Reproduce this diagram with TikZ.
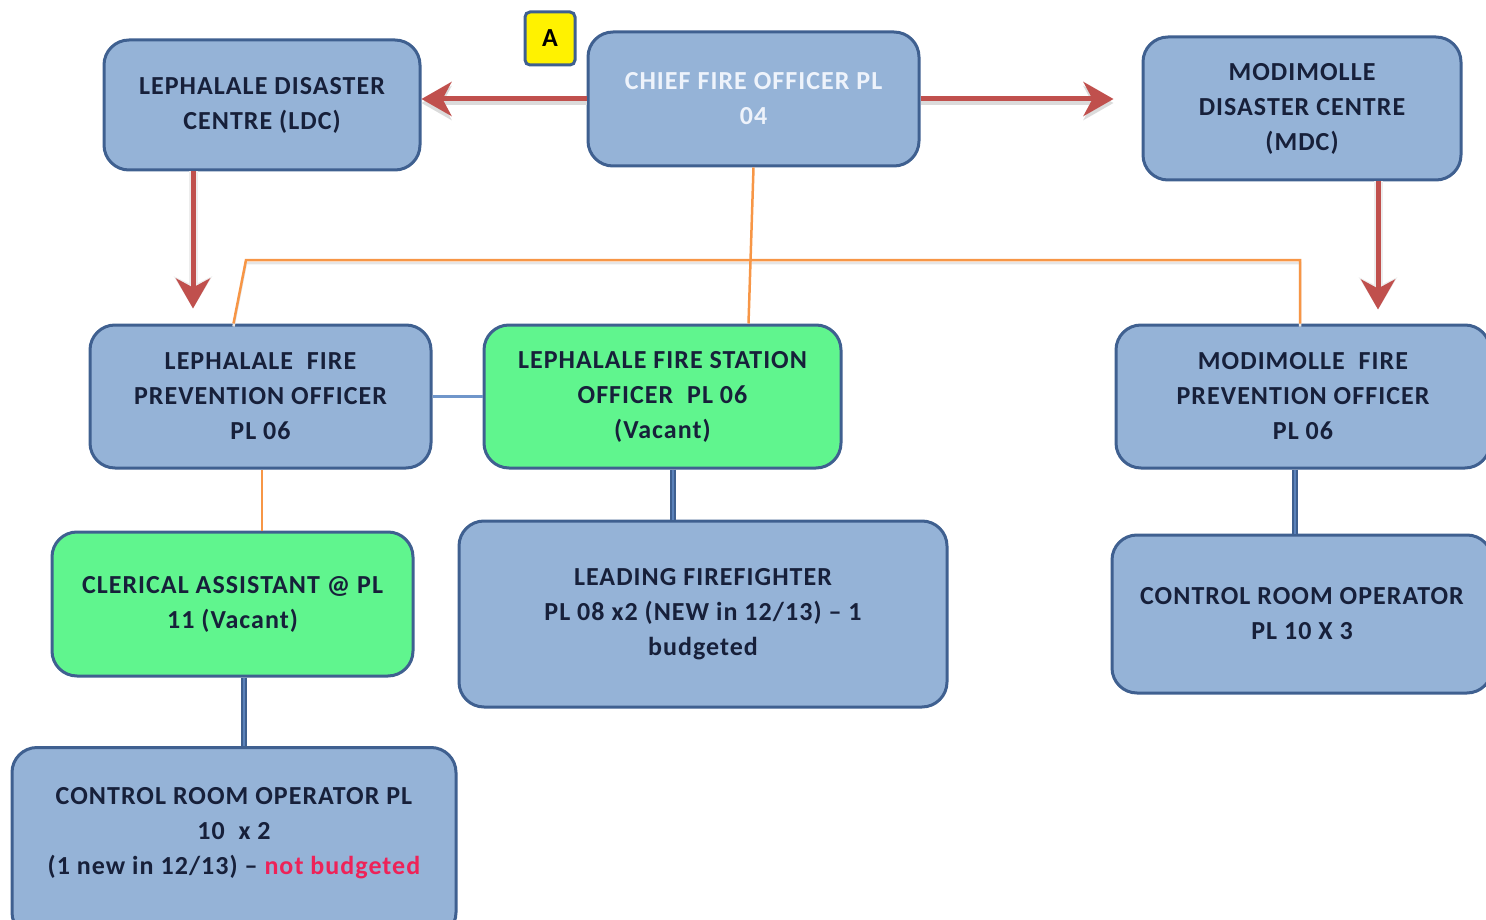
\documentclass[tikz,border=0pt]{standalone}
\usepackage{fontspec}
\setmainfont{Carlito}[LetterSpace=4]
\usetikzlibrary{arrows.meta}
\definecolor{boxfill}{HTML}{95B3D7}
\definecolor{boxline}{HTML}{3F6090}
\definecolor{boxgreen}{HTML}{60F58E}
\definecolor{arrowred}{HTML}{C0504D}
\definecolor{lineorange}{HTML}{F79646}
\definecolor{thinblue}{HTML}{7096CA}
\definecolor{midblue}{HTML}{5B82BA}
\definecolor{textdark}{HTML}{17203A}
\definecolor{chieftext}{HTML}{EEF3FB}
\definecolor{notbud}{HTML}{EE2258}
\tikzset{
  box/.style={draw=boxline, line width=3pt, fill=boxfill, rounded corners=25pt,
    align=center, text=textdark, font=\fontsize{26}{35}\selectfont\bfseries, inner sep=0pt},
  greenbox/.style={box, fill=boxgreen},
  txt/.style={align=center, text=textdark, font=\fontsize{26}{35}\selectfont\bfseries, inner sep=0pt},
  redarrow/.style={draw=arrowred, line width=5pt, -{Stealth[length=30pt,width=34pt,inset=9pt]},
    preaction={draw=black!14, line width=5pt, transform canvas={yshift=-4pt}, -{Stealth[length=30pt,width=34pt,inset=9pt]}}},
  vredarrow/.style={draw=arrowred, line width=5pt, -{Stealth[length=30pt,width=34pt,inset=9pt]},
    preaction={draw=black!7, line width=9pt, -{Stealth[length=32pt,width=38pt,inset=9pt]}}},
  orangeline/.style={draw=lineorange, line width=2.5pt},
  bluelink/.style={draw=boxline, line width=1.5pt, double=midblue, double distance=2.5pt},
  thinlink/.style={draw=thinblue, line width=3pt}
}
\begin{document}
\begin{tikzpicture}[x=1pt,y=-1pt]
\useasboundingbox (0,0) rectangle (1486,920);
\clip (0,0) rectangle (1486,920);
% boxes
\node[box, minimum width=316pt, minimum height=130pt] (ldc) at (262,105)
  {LEPHALALE DISASTER\\CENTRE (LDC)};
\node[box, minimum width=331pt, minimum height=134pt, text=chieftext] (chief) at (753.5,99)
  {CHIEF FIRE OFFICER PL\\04};
\node[box, fill=yellow, rounded corners=5pt, minimum width=50pt, minimum height=53pt, text=black] (a) at (550,38.5) {A};
\node[box, minimum width=318pt, minimum height=143pt] (mdc) at (1302,108.5)
  {MODIMOLLE\\DISASTER CENTRE\\(MDC)};
\node[box, minimum width=341pt, minimum height=143pt] (lfpo) at (260.5,396.5)
  {LEPHALALE~~FIRE\\PREVENTION OFFICER\\PL 06};
\node[greenbox, minimum width=357pt, minimum height=143pt] (lfso) at (662.5,396.5)
  {LEPHALALE FIRE STATION\\OFFICER~~PL 06\\(Vacant)};
\node[box, minimum width=374pt, minimum height=143pt] (mfpo) at (1303,396.5)
  {MODIMOLLE~~FIRE\\PREVENTION OFFICER\\PL 06};
\node[greenbox, minimum width=361pt, minimum height=144pt] (cler) at (232.5,604)
  {CLERICAL ASSISTANT @ PL\\11 (Vacant)};
\node[box, minimum width=488pt, minimum height=186pt] (lff) at (703,614)
  {LEADING FIREFIGHTER\\PL 08 x2 (NEW in 12/13) -- 1\\budgeted};
\node[box, minimum width=380pt, minimum height=158pt] (crr) at (1302,614)
  {CONTROL ROOM OPERATOR\\PL 10 X 3};
\node[box, minimum width=444pt, minimum height=190pt, anchor=north] (crl) at (234,746) {};
\node[txt] (crltext) at (234,833)
  {CONTROL ROOM OPERATOR PL\\10~~x 2\\(1 new in 12/13) -- \textcolor{notbud}{not budgeted}};
% connectors
\coordinate (o1) at (246,260);
\coordinate (o2) at (1300,260);
\draw[orangeline, preaction={draw=black!10, line width=2.5pt, transform canvas={yshift=-3pt}}]
  ([xshift=-27pt]lfpo.north) -- (o1) -- (o2) -- ([xshift=-3pt]mfpo.north);
\draw[orangeline] (chief.south) -- ([xshift=86pt]lfso.north);
\draw[orangeline] ([xshift=1.5pt]lfpo.south) -- ([xshift=29.5pt]cler.north);
\draw[thinlink] (lfpo.east) -- (lfso.west);
\draw[bluelink] ([xshift=10.5pt]lfso.south) -- ([xshift=-30pt]lff.north);
\draw[bluelink] ([xshift=-8pt]mfpo.south) -- ([xshift=-7pt]crr.north);
\draw[bluelink] ([xshift=11.5pt]cler.south) -- ([xshift=10pt]crl.north);
\draw[redarrow] (chief.west) -- (chief.west -| ldc.east);
\draw[redarrow, shorten >=28pt] (chief.east) -- (chief.east -| mdc.west);
\draw[vredarrow, shorten >=15pt] ([xshift=-69pt]ldc.south) -- ([xshift=-69pt]ldc.south |- lfpo.north);
\draw[vredarrow, shorten >=14pt] ([xshift=76pt]mdc.south) -- ([xshift=76pt]mdc.south |- mfpo.north);
\end{tikzpicture}
\end{document}
